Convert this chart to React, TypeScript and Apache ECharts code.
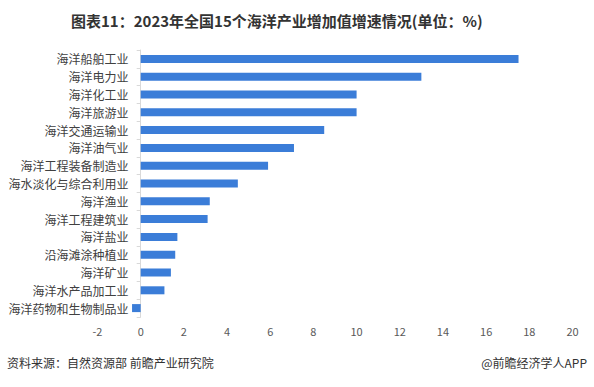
import React, { useEffect, useRef } from "react";
import * as echarts from "echarts";

const categories = [
  "海洋船舶工业",
  "海洋电力业",
  "海洋化工业",
  "海洋旅游业",
  "海洋交通运输业",
  "海洋油气业",
  "海洋工程装备制造业",
  "海水淡化与综合利用业",
  "海洋渔业",
  "海洋工程建筑业",
  "海洋盐业",
  "沿海滩涂种植业",
  "海洋矿业",
  "海洋水产品加工业",
  "海洋药物和生物制品业",
];
const growth = [17.5, 13.0, 10.0, 10.0, 8.5, 7.1, 5.9, 4.5, 3.2, 3.1, 1.7, 1.6, 1.4, 1.1, -0.4];
const title = "图表11：2023年全国15个海洋产业增加值增速情况(单位：%)";
const source = "资料来源：自然资源部 前瞻产业研究院";
const credit = "@前瞻经济学人APP";

const FONT = "'Noto Sans CJK SC', 'Noto Sans', sans-serif";

export default function App() {
  const ref = useRef<HTMLDivElement>(null);
  useEffect(() => {
    if (!ref.current) return;
    const chart = echarts.init(ref.current, undefined, { renderer: "svg" });
    chart.setOption({
      animation: false,
      backgroundColor: "#ffffff",
      title: {
        text: title,
        left: 66,
        top: 8,
        textStyle: { fontFamily: FONT, fontSize: 15, fontWeight: "bold", color: "#333333" },
      },
      grid: {
        left: 97.5,
        right: 21.5,
        top: 50,
        bottom: 70,
        containLabel: false,
        outerBoundsMode: "none",
      },
      xAxis: {
        type: "value",
        min: -2,
        max: 20,
        interval: 2,
        axisLine: { show: false },
        axisTick: { show: false },
        splitLine: { show: false },
        axisLabel: { fontFamily: FONT, fontSize: 11, color: "#595959", margin: 8 },
      },
      yAxis: {
        type: "category",
        data: categories,
        inverse: true,
        axisLine: { show: true, onZero: true, lineStyle: { color: "#d9d9d9" } },
        axisTick: { show: true, length: 4, lineStyle: { color: "#d9d9d9" } },
        axisLabel: { fontFamily: FONT, fontSize: 12, color: "#404040", margin: -31 },
      },
      series: [
        {
          type: "bar",
          data: growth,
          barWidth: "45%",
          itemStyle: { color: "#3b7dd8" },
        },
      ],
      graphic: [
        {
          type: "text",
          left: 7,
          top: 356,
          style: { text: source, fontFamily: FONT, fontSize: 12, fill: "#333333" },
        },
        {
          type: "text",
          right: 7,
          top: 356,
          style: { text: credit, fontFamily: FONT, fontSize: 12, fill: "#333333" },
        },
      ],
    });
    return () => chart.dispose();
  }, []);
  return (
    <div
      ref={ref}
      style={{ position: "absolute", left: 0, top: 0, width: 594, height: 387 }}
    />
  );
}
